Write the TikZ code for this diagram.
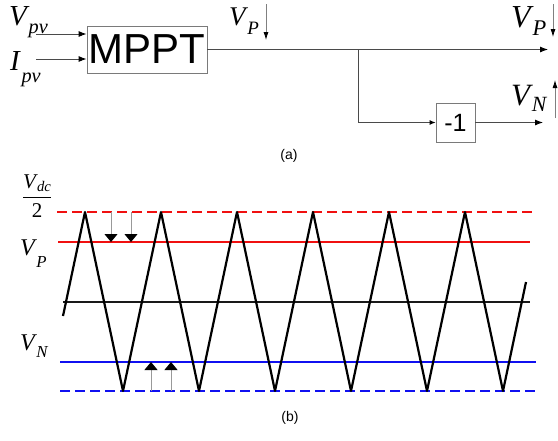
\documentclass[tikz,border=0pt]{standalone}
\usepackage{fontspec}
\setmainfont{Liberation Sans}
\newfontfamily\tnr{Liberation Serif}
\usetikzlibrary{arrows.meta, positioning, calc}
\definecolor{linegray}{HTML}{4A4A4A}
\definecolor{boxgray}{HTML}{7A7A7A}
\definecolor{pwmred}{HTML}{F01010}
\definecolor{pwmblue}{HTML}{1010F0}
\newcommand{\siglab}[3][8pt]{{\tnr\itshape #2\kern0.06em\raisebox{-#1}{\scalebox{0.7}{#3}}}}

\begin{document}
\begin{tikzpicture}[
  x=1pt, y=-1pt,
  blk/.style={rectangle, draw=boxgray, thick, fill=white, inner sep=0pt, align=center},
  sig/.style={draw=linegray, line width=0.9pt},
  arrow/.style={-{Latex[length=8pt, width=6pt, color=black]}, sig},
  mark arrow/.style={-{Latex[length=8pt, width=5pt, color=black]}, draw=gray, line width=0.8pt},
  big head/.style={-{Triangle[length=8pt, width=13pt, color=black]}, draw=gray!80, line width=0.9pt},
  lab/.style={inner sep=0pt, anchor=base west, font=\fontsize{29}{29}\selectfont},
  smalllab/.style={lab, font=\fontsize{24}{24}\selectfont},
  caption/.style={font=\fontsize{14}{14}\selectfont},
  limit/.style={line width=1.8pt, dash pattern=on 10pt off 5pt},
  level/.style={line width=1.8pt},
  wave/.style={line width=2.2pt, line join=round}
]
  \useasboundingbox (0,0) rectangle (558,440);

  % (a) MPPT part
  \node[blk, minimum width=120pt, minimum height=47pt,
        font=\fontsize{42}{42}\selectfont] (mppt) at (147,49.5) {MPPT};
  \node[blk, minimum width=39pt, minimum height=39pt,
        font=\fontsize{25}{25}\selectfont] (neg) at (455.5,122.5) {-1};
  \node[lab] (vpv) at (9,25) {\siglab{V}{pv}};
  \node[lab] (ipv) at (10,70) {\siglab[12pt]{I}{pv}};
  \coordinate (vpvin) at (36,34);
  \coordinate (ipvin) at (36,59);
  \coordinate (br) at (358,49.5);
  \coordinate (vpout) at (548,49.5);
  \coordinate (vnout) at (543,122.5);
  \draw[arrow] (vpvin) -- (vpvin -| mppt.west);
  \draw[arrow] (ipvin) -- (ipvin -| mppt.west);
  \draw[arrow] (mppt.east) -- (vpout);
  \draw[-{Latex[length=6pt, width=5pt, color=black]}, sig] (br) |- (neg.west);
  \draw[arrow] (neg.east) -- (vnout);

  \node[lab, font=\fontsize{27}{27}\selectfont] (vptop) at (229,25) {\siglab[9pt]{V}{P}};
  \node[lab, font=\fontsize{32}{32}\selectfont] (vpright) at (511,27) {\siglab{V}{P}};
  \node[lab, font=\fontsize{31}{31}\selectfont] (vnright) at (511,105) {\siglab[6pt]{V}{N}};
  \coordinate (d1a) at (266,4);  \coordinate (d1b) at (266,40);
  \coordinate (d2a) at (553,4);  \coordinate (d2b) at (553,37);
  \coordinate (u1a) at (555,118); \coordinate (u1b) at (555,80);
  \draw[mark arrow] (d1a) -- (d1b);
  \draw[mark arrow] (d2a) -- (d2b);
  \draw[mark arrow] (u1a) -- (u1b);

  \node[caption] (capa) at (289,156) {(a)};

  % (b) carrier and references
  \draw[limit, pwmred] (57,212) -- (533,212);
  \draw[level, pwmred] (58,242) -- (530,242);
  \draw[level, black!90] (63,302) -- (530,302);
  \draw[level, pwmblue] (60,362) -- (536,362);
  \draw[limit, pwmblue] (60,391) -- (535,391);
  \draw[wave] (63,316) foreach \k in {0,...,5} { -- ({85+76*\k},212) -- ({123+76*\k},391) } -- (526,282);

  \foreach \x in {111,131}
    \draw[big head] (\x,212) -- (\x,242);
  \foreach \x in {151,171}
    \draw[big head] (\x,391) -- (\x,362);

  \node[inner sep=0pt, font=\fontsize{21}{21}\selectfont] (vdc) at (37,196)
    {$\displaystyle\frac{\hbox{\siglab[3pt]{V}{dc}}}{\hbox{\tnr 2}}$};
  \node[smalllab] (vpleft) at (20,255) {\siglab[12pt]{V}{P}};
  \node[smalllab] (vnleft) at (20,350) {\siglab[7pt]{V}{N}};

  \node[caption] (capb) at (290,418) {(b)};
\end{tikzpicture}
\end{document}
